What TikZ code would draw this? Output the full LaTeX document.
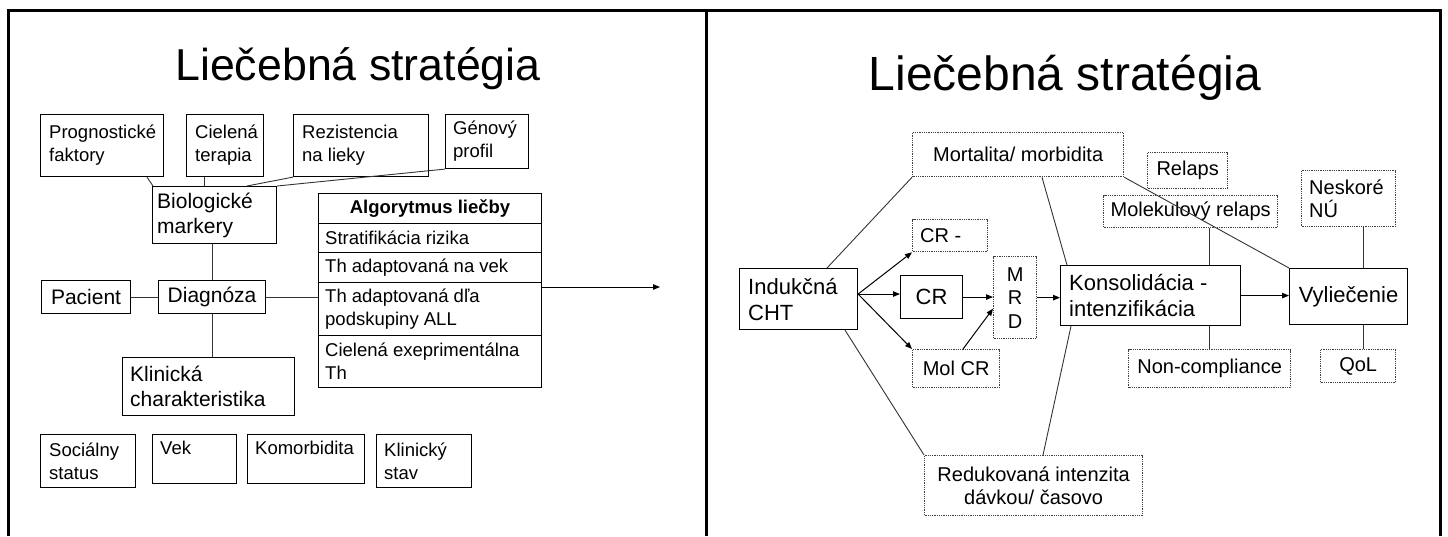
\documentclass[tikz,border=0pt]{standalone}
\usepackage{fontspec}
\setmainfont{Liberation Sans}
\usetikzlibrary{arrows.meta}
% box: name, x1, y1, x2, y2, style
\newcommand\bx[6]{\node[#6, anchor=north west, inner sep=0pt, minimum width=#4pt-#2pt, minimum height=#5pt-#3pt] (#1) at (#2,#3) {};}
% left text, vertically centred: box, xpad, style, text
\newcommand\tw[4]{\node[#3, anchor=west, inner sep=0pt, align=left] at ([xshift=#2pt]#1.west) {#4};}
% left text, top: box, shift, style, text
\newcommand\tn[4]{\node[#3, anchor=north west, inner sep=0pt, align=left] at ([shift={(#2)}]#1.north west) {#4};}
% centred text
\newcommand\tc[3]{\node[#2, align=center, inner sep=0pt] at (#1) {#3};}
\begin{document}
\begin{tikzpicture}[x=1pt,y=-1pt,
  sbox/.style={draw=black, line width=1.1pt},
  dbox/.style={draw=black!75, line width=1.3pt, dash pattern=on 1pt off 0.8pt},
  conn/.style={draw=black!80, line width=0.9pt},
  arr/.style={draw=black, line width=1pt, -{Triangle[length=7pt,width=5.5pt]}},
  frame/.style={draw=black, line width=3pt},
  fs/.style={font=\fontsize{18.5}{23}\selectfont},
  fsb/.style={font=\fontsize{18.5}{23}\selectfont\bfseries},
  fm/.style={font=\fontsize{21}{25}\selectfont},
  rd/.style={font=\fontsize{20}{23.5}\selectfont},
  rb/.style={font=\fontsize{22}{26}\selectfont},
  ttl/.style={anchor=base}]
\useasboundingbox (0,0) rectangle (1448,536);
% frame
\draw[frame] (8,536) -- (8,10) -- (1440,10) -- (1440,536);
\draw[frame] (706,10) -- (706,536);

% ===== left panel =====
\node[ttl, font=\fontsize{44.7}{50}\selectfont] (t1) at (358,80) {Liečebná stratégia};

\bx{prog}{40}{114}{163}{176}{sbox}   \tw{prog}{9}{fs}{Prognostické\\faktory}
\bx{ciel}{186}{114}{263}{176}{sbox}  \tw{ciel}{9}{fs}{Cielená\\terapia}
\bx{rez}{293}{114}{428}{176}{sbox}   \tw{rez}{9}{fs}{Rezistencia\\na lieky}
\bx{gen}{445}{114}{528}{168}{sbox}   \tw{gen}{8}{fs}{Génový\\profil}
\bx{bio}{152}{186}{276}{243}{sbox}   \tw{bio}{5}{fm}{Biologické\\markery}
\bx{pac}{41}{280}{130}{313}{sbox}    \tc{pac}{fm}{Pacient}
\bx{diag}{158}{280}{265}{313}{sbox}  \tc{diag}{fm}{Diagnóza}
\bx{klin}{122}{357}{294}{415}{sbox}  \tw{klin}{8}{fm}{Klinická\\charakteristika}

\bx{th}{318}{193}{541}{223}{sbox}  \tc{th}{fsb}{Algorytmus liečby}
\bx{r1}{318}{223}{541}{252}{sbox}  \tw{r1}{7}{fs}{Stratifikácia rizika}
\bx{r2}{318}{252}{541}{282}{sbox}  \tw{r2}{7}{fs}{Th adaptovaná na vek}
\bx{r3}{318}{282}{541}{335}{sbox}  \tw{r3}{7}{fs}{Th adaptovaná dľa\\podskupiny ALL}
\bx{r4}{318}{335}{541}{387}{sbox}  \tw{r4}{7}{fs}{Cielená exeprimentálna\\Th}

\bx{soc}{40}{434}{135}{487}{sbox}   \tw{soc}{9}{fs}{Sociálny\\status}
\bx{vek}{152}{434}{236}{483}{sbox}  \tn{vek}{{8,7}}{fs}{Vek}
\bx{kom}{247}{434}{364}{483}{sbox}  \tn{kom}{{8,7}}{fs}{Komorbidita}
\bx{kls}{376}{434}{471}{487}{sbox}  \tw{kls}{8}{fs}{Klinický\\stav}

\draw[conn] ([xshift=107pt]prog.south west) -- ([xshift=1pt]bio.north west);
\draw[conn] ([xshift=18pt]ciel.south west) -- ([xshift=18pt]ciel.south west |- bio.north);
\draw[conn] (rez.south west) -- ([xshift=95pt]bio.north west);
\draw[conn] (gen.south west) -- (bio.north east);
\draw[conn] ([xshift=60pt]bio.south west) -- ([xshift=60pt]bio.south west |- diag.north);
\draw[conn] (pac.east) -- (diag.west);
\draw[conn] (diag.east) -- (diag.east -| r3.west);
\draw[conn] ([xshift=54pt]diag.south west) -- ([xshift=54pt]diag.south west |- klin.north);
\coordinate (aend) at (660,287);
\draw[arr] (aend -| r3.east) -- (aend);

% ===== right panel =====
\node[ttl, font=\fontsize{48}{54}\selectfont] (t2) at (1065,90) {Liečebná stratégia};

\bx{ind}{739}{268}{857}{329}{sbox}    \tw{ind}{9}{rb}{Indukčná\\CHT}
\bx{mort}{912}{132}{1123}{176}{dbox}  \tc{mort}{rd}{Mortalita/ morbidita}
\bx{crm}{912}{219}{987}{251}{dbox}    \tw{crm}{8}{rd}{CR -}
\bx{cr}{900}{275}{962}{318}{sbox}     \tc{cr}{rb}{CR}
\bx{mrd}{993}{256}{1036}{338}{dbox}   \tc{mrd}{rd}{M\\R\\D}
\bx{mol}{912}{349}{999}{387}{dbox}    \tc{mol}{rd}{Mol CR}
\bx{red}{924}{455}{1142}{515}{dbox}   \tc{red}{rd}{Redukovaná intenzita\\dávkou/ časovo}
\bx{kon}{1060}{265}{1240}{325}{sbox}  \tw{kon}{9}{rb}{Konsolidácia -\\intenzifikácia}
\bx{vyl}{1289}{268}{1407}{324}{sbox}  \tc{vyl}{rb}{Vyliečenie}
\bx{rel}{1147}{152}{1227}{188}{dbox}  \tc{rel}{rd}{Relaps}
\bx{mrel}{1103}{195}{1277}{227}{dbox} \tc{mrel}{rd}{Molekulový relaps}
\bx{nes}{1301}{170}{1395}{226}{dbox}  \tw{nes}{8}{rd}{Neskoré\\NÚ}
\bx{nonc}{1128}{349}{1290}{387}{dbox} \tc{nonc}{rd}{Non-compliance}
\bx{qol}{1320}{349}{1395}{382}{dbox}  \tc{qol}{rd}{QoL}

\coordinate (fan) at ([yshift=5pt]ind.east);
\draw[conn] ([xshift=88pt]ind.north west) -- (mort.south west);
\draw[conn] ([xshift=130pt]mort.south west) -- ([xshift=7pt]kon.north west);
\draw[conn] (mort.south east) -- (vyl.north west);
\draw[conn] ([xshift=106pt]mrel.south west) -- ([xshift=106pt]mrel.south west |- kon.north);
\draw[conn] ([xshift=62pt]nes.south west) -- ([xshift=62pt]nes.south west |- vyl.north);
\draw[conn] ([xshift=81pt]nonc.north west) -- ([xshift=81pt]nonc.north west |- kon.south);
\draw[conn] ([xshift=43pt]qol.north west) -- ([xshift=43pt]qol.north west |- vyl.south);
\draw[conn] ([xshift=106pt]ind.south west) -- (red.north west);
\draw[conn] ([xshift=119pt]red.north west) -- ([xshift=11pt]kon.south west);

\draw[arr] (fan) -- (crm.south west);
\draw[arr] (fan) -- (fan -| cr.west);
\draw[arr] (fan) -- (mol.north west);
\draw[arr] (cr.east) -- (cr.east -| mrd.west);
\draw[arr] ([xshift=51pt]mol.north west) -- ([yshift=-11pt]mrd.west);
\draw[arr] (mrd.east) -- (mrd.east -| kon.west);
\draw[arr] (kon.east) -- (kon.east -| vyl.west);
\end{tikzpicture}
\end{document}
